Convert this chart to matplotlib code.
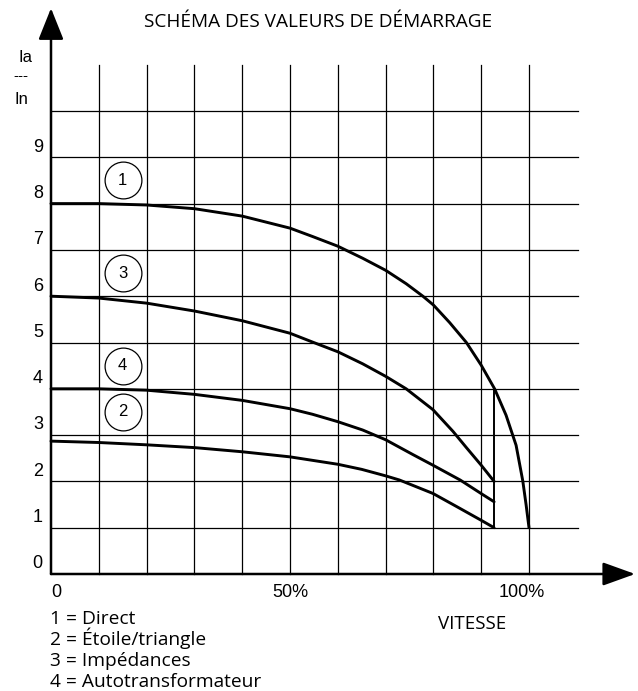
import numpy as np
import matplotlib
matplotlib.use("Agg")
import matplotlib.pyplot as plt

# Starting current diagram: Ia/In vs speed (%)
speed_direct = [0, 10, 20, 30, 40, 50, 54.7, 60, 65.2, 70, 74.3, 77.8, 80, 83.4,
                86.9, 90, 92.8, 95.2, 97.3, 98.7, 99.4, 100]
ia_direct = [8.0, 8.0, 7.97, 7.89, 7.73, 7.47, 7.29, 7.08, 6.82, 6.56, 6.27, 6.0,
             5.81, 5.43, 5.0, 4.51, 4.0, 3.43, 2.78, 2.01, 1.49, 1.0]

speed_imped = [0, 10, 20, 30, 40, 50, 54.7, 60, 65.2, 70, 74.3, 79.9, 84.1, 86.9,
               90, 92.7]
ia_imped = [6.0, 5.96, 5.85, 5.68, 5.47, 5.2, 5.01, 4.80, 4.54, 4.27, 4.0, 3.55,
            3.08, 2.73, 2.35, 2.0]

speed_auto = [0, 10, 20, 30, 40, 50, 54.7, 60, 65.2, 70, 75.7, 79.9, 85.6, 90.4, 92.7]
ia_auto = [4.0, 4.0, 3.97, 3.88, 3.75, 3.57, 3.45, 3.29, 3.11, 2.9, 2.58, 2.35,
           2.03, 1.71, 1.56]

speed_star = [0, 10, 20, 30, 40, 50, 60, 65, 70, 72.9, 79.9, 84.8, 90, 92.7]
ia_star = [2.87, 2.84, 2.79, 2.73, 2.64, 2.53, 2.37, 2.26, 2.12, 2.03, 1.74, 1.46,
           1.16, 1.0]

# switch-over speed for the reduced-voltage methods
switch_speed = 92.7
switch_low = 1.0

circle_labels = ["1", "3", "4", "2"]
circle_y = [8.5, 6.5, 4.5, 3.5]
circle_x = 15

y_ticks = [0, 1, 2, 3, 4, 5, 6, 7, 8, 9]
x_tick_pos = [0, 50, 100]
x_tick_labels = ["0", "50%", "100%"]
grid_x = [10, 20, 30, 40, 50, 60, 70, 80, 90, 100]
grid_y = [1, 2, 3, 4, 5, 6, 7, 8, 9, 10]

legend_lines = ["1 = Direct", "2 = Étoile/triangle", "3 = Impédances",
                "4 = Autotransformateur"]

W, H = 638, 691
fig = plt.figure(figsize=(W / 100, H / 100), dpi=100)
ax = fig.add_axes([51 / W, (H - 574) / H, (529 - 51) / W, (574 - 111) / H])
ax.set_xlim(0, 100)
ax.set_ylim(0, 10)
ax.axis("off")

num_font = "Liberation Sans"
txt_font = "Open Sans"

# grid
for gx in grid_x:
    ax.plot([gx, gx], [0, 11.0], color="black", lw=0.9, clip_on=False)
for gy in grid_y:
    ax.plot([0, 110.3], [gy, gy], color="black", lw=0.9, clip_on=False)

# axes with arrows
ax.annotate("", xy=(0, 12.22), xytext=(0, 0), annotation_clip=False,
            arrowprops=dict(arrowstyle="-|>,head_length=1.95,head_width=0.78",
                            mutation_scale=10, lw=1.8, color="black",
                            shrinkA=0, shrinkB=0))
ax.annotate("", xy=(122.2, 0), xytext=(0, 0), annotation_clip=False,
            arrowprops=dict(arrowstyle="-|>,head_length=2.0,head_width=0.72",
                            mutation_scale=10, lw=1.8, color="black",
                            shrinkA=0, shrinkB=0))

# curves
for xs, ys in [(speed_direct, ia_direct), (speed_imped, ia_imped),
               (speed_auto, ia_auto), (speed_star, ia_star)]:
    ax.plot(xs, ys, color="black", lw=2.1, solid_capstyle="round",
            solid_joinstyle="round", clip_on=False)

top = np.interp(switch_speed, speed_direct, ia_direct)
ax.plot([switch_speed, switch_speed], [switch_low, top], color="black", lw=1.4)

# circled curve numbers
for lab, cy in zip(circle_labels, circle_y):
    ax.plot(circle_x, cy, marker="o", ms=26.5, mfc="white", mec="black", mew=0.9)
    ax.text(circle_x, cy, lab, ha="center", va="center", fontsize=12,
            family=num_font)

# tick labels
for v in y_ticks:
    ax.text(-1.7, v + 0.22, str(v), ha="right", va="center", fontsize=13,
            family=num_font)
for pos, lab, ha in zip(x_tick_pos, x_tick_labels, ["left", "center", "center"]):
    shift = -1.5 if lab == "100%" else 0
    ax.text(pos + shift, -0.4, lab, ha=ha, va="center", fontsize=13,
            family=num_font, clip_on=False)

# y-axis label Ia / In
fig.text(18 / W, 1 - 62 / H, "Ia", fontsize=12, family=num_font, va="baseline")
fig.text(13 / W, 1 - 80 / H, "---", fontsize=11, family=num_font, va="baseline")
fig.text(14 / W, 1 - 104 / H, "In", fontsize=12, family=num_font, va="baseline")

fig.text(318 / W, 1 - 22 / H, "SCHÉMA DES VALEURS DE DÉMARRAGE", ha="center",
         va="center", fontsize=13.7, family=txt_font)
fig.text(472 / W, 1 - 624 / H, "VITESSE", ha="center", va="center",
         fontsize=13.5, family=txt_font)

for i, line in enumerate(legend_lines):
    fig.text(50 / W, 1 - (624 + 21 * i) / H, line, ha="left", va="baseline",
             fontsize=13.8, family=txt_font)

fig.savefig("out.png", dpi=100, facecolor="white")
